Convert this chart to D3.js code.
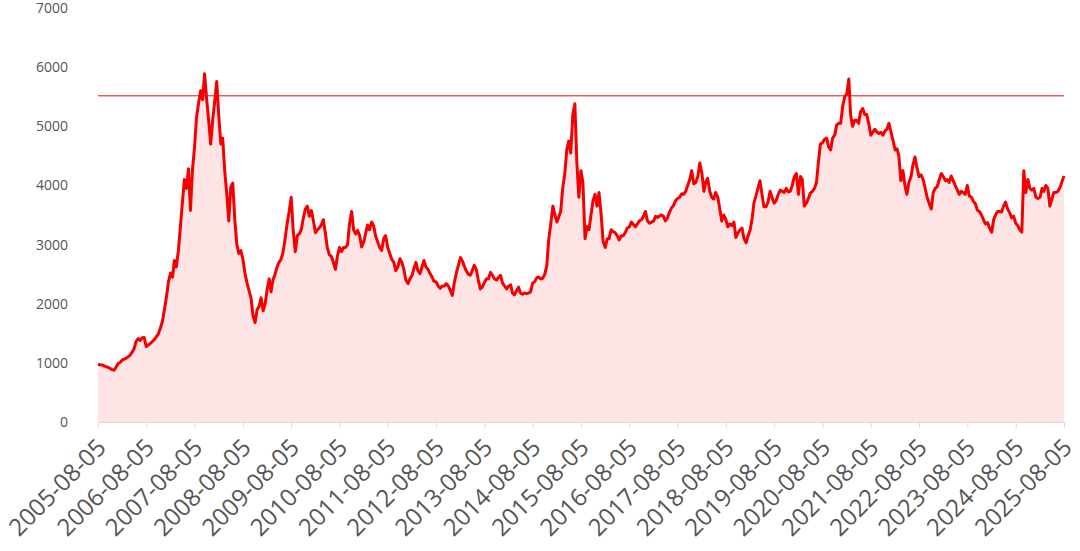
<!DOCTYPE html>
<html>
<head>
<meta charset="utf-8">
<script src="https://cdn.jsdelivr.net/npm/d3@7"></script>
<style>
  body { margin: 0; background: #fff; }
  svg text { font-family: "Open Sans", sans-serif; fill: #555; }
</style>
</head>
<body>
<div id="chart"></div>
<script>
// half-monthly closes (5th and 20th of each month)
const dates = [
  "2005-08-05","2005-08-20","2005-09-05","2005-09-20","2005-10-05","2005-10-20","2005-11-05","2005-11-20","2005-12-05","2005-12-20",
  "2006-01-05","2006-01-20","2006-02-05","2006-02-20","2006-03-05","2006-03-20","2006-04-05","2006-04-20","2006-05-05","2006-05-20","2006-06-05","2006-06-20","2006-07-05","2006-07-20","2006-08-05","2006-08-20","2006-09-05","2006-09-20","2006-10-05","2006-10-20","2006-11-05","2006-11-20","2006-12-05","2006-12-20",
  "2007-01-05","2007-01-20","2007-02-05","2007-02-20","2007-03-05","2007-03-20","2007-04-05","2007-04-20","2007-05-05","2007-05-20","2007-06-05","2007-06-20","2007-07-05","2007-07-20","2007-08-05","2007-08-20","2007-09-05","2007-09-20","2007-10-05","2007-10-20","2007-11-05","2007-11-20","2007-12-05","2007-12-20",
  "2008-01-05","2008-01-20","2008-02-05","2008-02-20","2008-03-05","2008-03-20","2008-04-05","2008-04-20","2008-05-05","2008-05-20","2008-06-05","2008-06-20","2008-07-05","2008-07-20","2008-08-05","2008-08-20","2008-09-05","2008-09-20","2008-10-05","2008-10-20","2008-11-05","2008-11-20","2008-12-05","2008-12-20",
  "2009-01-05","2009-01-20","2009-02-05","2009-02-20","2009-03-05","2009-03-20","2009-04-05","2009-04-20","2009-05-05","2009-05-20","2009-06-05","2009-06-20","2009-07-05","2009-07-20","2009-08-05","2009-08-20","2009-09-05","2009-09-20","2009-10-05","2009-10-20","2009-11-05","2009-11-20","2009-12-05","2009-12-20",
  "2010-01-05","2010-01-20","2010-02-05","2010-02-20","2010-03-05","2010-03-20","2010-04-05","2010-04-20","2010-05-05","2010-05-20","2010-06-05","2010-06-20","2010-07-05","2010-07-20","2010-08-05","2010-08-20","2010-09-05","2010-09-20","2010-10-05","2010-10-20","2010-11-05","2010-11-20","2010-12-05","2010-12-20",
  "2011-01-05","2011-01-20","2011-02-05","2011-02-20","2011-03-05","2011-03-20","2011-04-05","2011-04-20","2011-05-05","2011-05-20","2011-06-05","2011-06-20","2011-07-05","2011-07-20","2011-08-05","2011-08-20","2011-09-05","2011-09-20","2011-10-05","2011-10-20","2011-11-05","2011-11-20","2011-12-05","2011-12-20",
  "2012-01-05","2012-01-20","2012-02-05","2012-02-20","2012-03-05","2012-03-20","2012-04-05","2012-04-20","2012-05-05","2012-05-20","2012-06-05","2012-06-20","2012-07-05","2012-07-20","2012-08-05","2012-08-20","2012-09-05","2012-09-20","2012-10-05","2012-10-20","2012-11-05","2012-11-20","2012-12-05","2012-12-20",
  "2013-01-05","2013-01-20","2013-02-05","2013-02-20","2013-03-05","2013-03-20","2013-04-05","2013-04-20","2013-05-05","2013-05-20","2013-06-05","2013-06-20","2013-07-05","2013-07-20","2013-08-05","2013-08-20","2013-09-05","2013-09-20","2013-10-05","2013-10-20","2013-11-05","2013-11-20","2013-12-05","2013-12-20",
  "2014-01-05","2014-01-20","2014-02-05","2014-02-20","2014-03-05","2014-03-20","2014-04-05","2014-04-20","2014-05-05","2014-05-20","2014-06-05","2014-06-20","2014-07-05","2014-07-20","2014-08-05","2014-08-20","2014-09-05","2014-09-20","2014-10-05","2014-10-20","2014-11-05","2014-11-20","2014-12-05","2014-12-20",
  "2015-01-05","2015-01-20","2015-02-05","2015-02-20","2015-03-05","2015-03-20","2015-04-05","2015-04-20","2015-05-05","2015-05-20","2015-06-05","2015-06-20","2015-07-05","2015-07-20","2015-08-05","2015-08-20","2015-09-05","2015-09-20","2015-10-05","2015-10-20","2015-11-05","2015-11-20","2015-12-05","2015-12-20",
  "2016-01-05","2016-01-20","2016-02-05","2016-02-20","2016-03-05","2016-03-20","2016-04-05","2016-04-20","2016-05-05","2016-05-20","2016-06-05","2016-06-20","2016-07-05","2016-07-20","2016-08-05","2016-08-20","2016-09-05","2016-09-20","2016-10-05","2016-10-20","2016-11-05","2016-11-20","2016-12-05","2016-12-20",
  "2017-01-05","2017-01-20","2017-02-05","2017-02-20","2017-03-05","2017-03-20","2017-04-05","2017-04-20","2017-05-05","2017-05-20","2017-06-05","2017-06-20","2017-07-05","2017-07-20","2017-08-05","2017-08-20","2017-09-05","2017-09-20","2017-10-05","2017-10-20","2017-11-05","2017-11-20","2017-12-05","2017-12-20",
  "2018-01-05","2018-01-20","2018-02-05","2018-02-20","2018-03-05","2018-03-20","2018-04-05","2018-04-20","2018-05-05","2018-05-20","2018-06-05","2018-06-20","2018-07-05","2018-07-20","2018-08-05","2018-08-20","2018-09-05","2018-09-20","2018-10-05","2018-10-20","2018-11-05","2018-11-20","2018-12-05","2018-12-20",
  "2019-01-05","2019-01-20","2019-02-05","2019-02-20","2019-03-05","2019-03-20","2019-04-05","2019-04-20","2019-05-05","2019-05-20","2019-06-05","2019-06-20","2019-07-05","2019-07-20","2019-08-05","2019-08-20","2019-09-05","2019-09-20","2019-10-05","2019-10-20","2019-11-05","2019-11-20","2019-12-05","2019-12-20",
  "2020-01-05","2020-01-20","2020-02-05","2020-02-20","2020-03-05","2020-03-20","2020-04-05","2020-04-20","2020-05-05","2020-05-20","2020-06-05","2020-06-20","2020-07-05","2020-07-20","2020-08-05","2020-08-20","2020-09-05","2020-09-20","2020-10-05","2020-10-20","2020-11-05","2020-11-20","2020-12-05","2020-12-20",
  "2021-01-05","2021-01-20","2021-02-05","2021-02-20","2021-03-05","2021-03-20","2021-04-05","2021-04-20","2021-05-05","2021-05-20","2021-06-05","2021-06-20","2021-07-05","2021-07-20","2021-08-05","2021-08-20","2021-09-05","2021-09-20","2021-10-05","2021-10-20","2021-11-05","2021-11-20","2021-12-05","2021-12-20",
  "2022-01-05","2022-01-20","2022-02-05","2022-02-20","2022-03-05","2022-03-20","2022-04-05","2022-04-20","2022-05-05","2022-05-20","2022-06-05","2022-06-20","2022-07-05","2022-07-20","2022-08-05","2022-08-20","2022-09-05","2022-09-20","2022-10-05","2022-10-20","2022-11-05","2022-11-20","2022-12-05","2022-12-20",
  "2023-01-05","2023-01-20","2023-02-05","2023-02-20","2023-03-05","2023-03-20","2023-04-05","2023-04-20","2023-05-05","2023-05-20","2023-06-05","2023-06-20","2023-07-05","2023-07-20","2023-08-05","2023-08-20","2023-09-05","2023-09-20","2023-10-05","2023-10-20","2023-11-05","2023-11-20","2023-12-05","2023-12-20",
  "2024-01-05","2024-01-20","2024-02-05","2024-02-20","2024-03-05","2024-03-20","2024-04-05","2024-04-20","2024-05-05","2024-05-20","2024-06-05","2024-06-20","2024-07-05","2024-07-20","2024-08-05","2024-08-20","2024-09-05","2024-09-20","2024-10-05","2024-10-20","2024-11-05","2024-11-20","2024-12-05","2024-12-20",
  "2025-01-05","2025-01-20","2025-02-05","2025-02-20","2025-03-05","2025-03-20","2025-04-05","2025-04-20","2025-05-05","2025-05-20","2025-06-05","2025-06-20","2025-07-05","2025-07-20","2025-08-05"
];

const closes = [
  975, 968, 965, 950, 935, 925, 905, 885, 878, 930,
  990, 1010, 1050, 1065, 1075, 1100, 1130, 1180, 1240, 1360, 1410, 1380, 1420, 1430, 1275, 1300, 1330, 1360, 1395, 1440, 1495, 1590, 1700, 1900,
  2120, 2370, 2520, 2450, 2730, 2620, 2900, 3300, 3700, 4100, 3950, 4280, 3576, 4250, 4650, 5150, 5400, 5600, 5450, 5890, 5450, 5094, 4700, 5100,
  5431, 5757, 5150, 4700, 4800, 4250, 3850, 3400, 3970, 4040, 3400, 3000, 2850, 2900, 2750, 2520, 2350, 2220, 2100, 1800, 1680, 1900, 1950, 2100,
  1880, 2000, 2250, 2420, 2200, 2400, 2500, 2620, 2700, 2750, 2880, 3100, 3350, 3550, 3800, 3240, 2880, 3150, 3180, 3250, 3450, 3600, 3650, 3480,
  3575, 3400, 3200, 3250, 3280, 3330, 3420, 3200, 2950, 2830, 2800, 2700, 2580, 2800, 2950, 2880, 2950, 2950, 3000, 3350, 3560, 3250, 3180, 3240,
  3150, 2960, 3050, 3200, 3330, 3250, 3380, 3320, 3150, 3050, 2950, 2900, 3100, 3150, 2950, 2850, 2750, 2700, 2560, 2620, 2760, 2700, 2580, 2400,
  2340, 2420, 2480, 2600, 2700, 2560, 2510, 2620, 2730, 2620, 2580, 2510, 2450, 2380, 2370, 2300, 2260, 2300, 2300, 2340, 2300, 2230, 2140, 2350,
  2520, 2650, 2780, 2720, 2640, 2560, 2500, 2480, 2560, 2650, 2580, 2400, 2250, 2280, 2360, 2420, 2420, 2530, 2480, 2420, 2400, 2450, 2480, 2350,
  2300, 2250, 2300, 2320, 2180, 2150, 2220, 2280, 2180, 2160, 2180, 2170, 2180, 2200, 2350, 2370, 2440, 2450, 2420, 2430, 2500, 2650, 3100, 3350,
  3650, 3500, 3380, 3480, 3560, 3950, 4200, 4600, 4750, 4550, 5200, 5380, 4400, 3800, 4250, 4050, 3100, 3300, 3250, 3500, 3750, 3850, 3650, 3880,
  3500, 3050, 2950, 3100, 3100, 3250, 3220, 3200, 3150, 3080, 3150, 3150, 3200, 3280, 3300, 3380, 3340, 3300, 3350, 3400, 3420, 3480, 3560, 3400,
  3360, 3380, 3400, 3480, 3460, 3480, 3500, 3480, 3400, 3450, 3550, 3620, 3660, 3740, 3780, 3800, 3860, 3850, 3900, 4000, 4100, 4250, 4030, 4050,
  4150, 4380, 4200, 3900, 4050, 4120, 3900, 3800, 3770, 3880, 3800, 3600, 3400, 3500, 3420, 3300, 3350, 3320, 3380, 3120, 3200, 3250, 3280, 3100,
  3030, 3150, 3250, 3450, 3700, 3820, 3960, 4080, 3850, 3640, 3640, 3720, 3900, 3800, 3700, 3740, 3850, 3920, 3900, 3880, 3950, 3890, 3900, 4000,
  4150, 4200, 3850, 4150, 4100, 3650, 3700, 3780, 3870, 3900, 3950, 4050, 4400, 4700, 4720, 4780, 4800, 4650, 4600, 4800, 4850, 5020, 5050, 5050,
  5350, 5500, 5550, 5800, 5200, 5000, 5100, 5100, 5050, 5250, 5300, 5200, 5200, 5050, 4850, 4900, 4950, 4900, 4880, 4900, 4850, 4920, 4950, 5050,
  4900, 4760, 4600, 4620, 4500, 4080, 4250, 4000, 3850, 4050, 4150, 4350, 4480, 4300, 4150, 4180, 4100, 3950, 3800, 3700, 3600, 3880, 3950, 3980,
  4100, 4200, 4150, 4080, 4100, 4050, 4160, 4080, 4000, 3930, 3850, 3900, 3880, 3850, 4000, 3820, 3800, 3730, 3690, 3580, 3560, 3500, 3420, 3350,
  3370, 3280, 3210, 3420, 3500, 3560, 3560, 3550, 3650, 3720, 3600, 3540, 3450, 3480, 3360, 3320, 3250, 3210, 4250, 3880, 4100, 3950, 3920, 3950,
  3800, 3780, 3800, 3950, 3900, 4000, 3950, 3650, 3770, 3880, 3880, 3900, 3960, 4060, 4160
];

const xTickLabels = [
  "2005-08-05","2006-08-05","2007-08-05","2008-08-05","2009-08-05","2010-08-05","2011-08-05",
  "2012-08-05","2013-08-05","2014-08-05","2015-08-05","2016-08-05","2017-08-05","2018-08-05",
  "2019-08-05","2020-08-05","2021-08-05","2022-08-05","2023-08-05","2024-08-05","2025-08-05"
];
const yTicks = [0, 1000, 2000, 3000, 4000, 5000, 6000, 7000];
const refLevel = 5515;

const width = 1080;
const height = 551;
const margin = { top: 8, right: 16, bottom: 129, left: 98 };

const parse = d3.timeParse("%Y-%m-%d");
const data = dates.map((d, i) => ({ date: parse(d), value: closes[i] }));

const svg = d3.select("#chart")
  .append("svg")
  .attr("width", width)
  .attr("height", height);

const x = d3.scaleTime()
  .domain([parse(xTickLabels[0]), parse(xTickLabels[xTickLabels.length - 1])])
  .range([margin.left, width - margin.right]);

const y = d3.scaleLinear()
  .domain([0, 7000])
  .range([height - margin.bottom, margin.top]);

// area + line
const area = d3.area()
  .x(d => x(d.date))
  .y0(y(0))
  .y1(d => y(d.value));

const line = d3.line()
  .x(d => x(d.date))
  .y(d => y(d.value));

svg.append("path")
  .datum(data)
  .attr("d", area)
  .attr("fill", "#fee4e5");

// y axis: labels only
const yAxis = svg.append("g")
  .attr("transform", `translate(${margin.left},0)`)
  .call(d3.axisLeft(y).tickValues(yTicks).tickSize(0).tickPadding(30).tickFormat(d3.format("d")));
yAxis.select(".domain").remove();
yAxis.selectAll("text").style("font-size", "14px");

// x axis
const xAxis = svg.append("g")
  .attr("transform", `translate(0,${y(0)})`)
  .call(d3.axisBottom(x).tickValues(xTickLabels.map(parse)).tickSize(6).tickFormat(d3.timeFormat("%Y-%m-%d")));
xAxis.select(".domain").attr("stroke", "#e3d6d6");
xAxis.selectAll(".tick line").attr("stroke", "#e3d6d6");
xAxis.selectAll("text")
  .style("font-size", "24px")
  .attr("text-anchor", "end")
  .attr("dy", 0)
  .attr("y", 0)
  .attr("transform", "translate(9,27) rotate(-45)");

svg.append("path")
  .datum(data)
  .attr("d", line)
  .attr("fill", "none")
  .attr("stroke", "#f50000")
  .attr("stroke-width", 3)
  .attr("stroke-linejoin", "round");

// reference level
svg.append("line")
  .attr("x1", x.range()[0])
  .attr("x2", x.range()[1])
  .attr("y1", y(refLevel))
  .attr("y2", y(refLevel))
  .attr("stroke", "#dd1111")
  .attr("stroke-width", 1);
</script>
</body>
</html>
